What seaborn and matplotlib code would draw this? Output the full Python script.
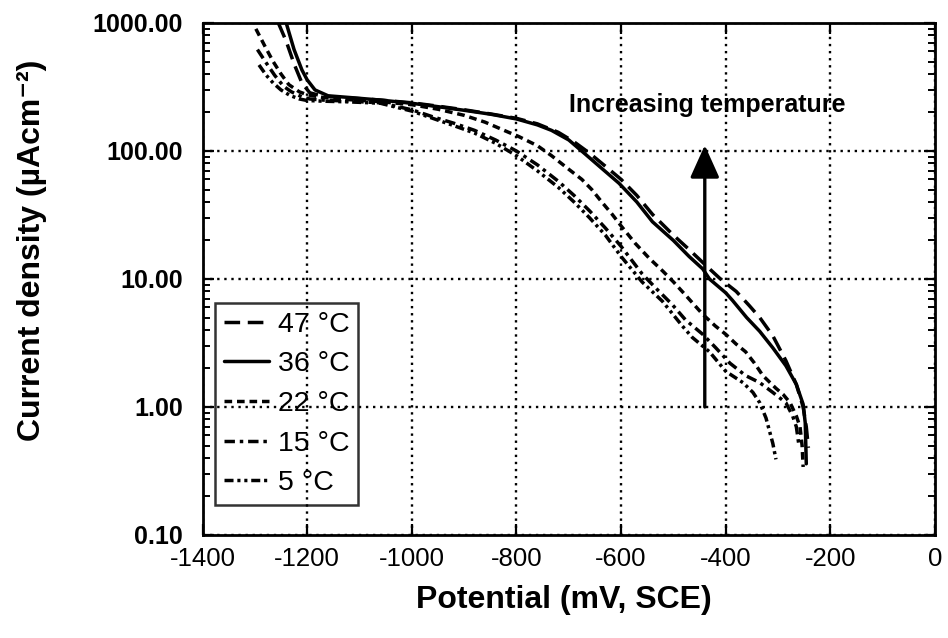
import matplotlib
matplotlib.use("Agg")
import matplotlib.pyplot as plt
import seaborn as sns
import pandas as pd
import numpy as np
from matplotlib.ticker import LogLocator, FixedLocator, FuncFormatter, NullFormatter

sns.set_theme(style="ticks")
plt.rcParams['font.family'] = ['Liberation Sans', 'DejaVu Sans']
plt.rcParams.update({"text.color": "black", "axes.labelcolor": "black",
                     "xtick.color": "black", "ytick.color": "black"})

# ---------------- data (potential mV vs current density uA/cm2) ----------------
x_47 = [-1255, -1240, -1225, -1210, -1195, -1170, -1120, -1060, -1000, -950, -900, -850,
        -800, -760, -720, -690, -660, -630, -600, -570, -540, -500, -470, -440, -410,
        -380, -355, -335, -310, -285, -265, -252, -246, -242]
y_47 = [1000, 720, 480, 340, 285, 268, 260, 250, 238, 224, 210, 195,
        180, 163, 140, 118, 96, 76, 60, 45, 32, 22, 17, 13, 10,
        8.0, 6.2, 5.0, 3.6, 2.3, 1.5, 1.0, 0.7, 0.48]

x_36 = [-1240, -1225, -1210, -1200, -1185, -1160, -1120, -1060, -1000, -950, -900, -850,
        -800, -760, -733, -700, -669, -640, -604, -570, -540, -500, -470, -444, -431,
        -400, -387, -360, -335, -310, -285, -265, -252, -248, -246]
y_36 = [1000, 620, 430, 360, 300, 270, 262, 250, 236, 222, 208, 194,
        178, 160, 145, 122, 95, 75, 56, 40, 28, 20, 15, 12, 10,
        7.8, 6.8, 5.0, 3.9, 2.9, 2.1, 1.5, 1.05, 0.75, 0.36]

x_22 = [-1298, -1280, -1265, -1250, -1235, -1215, -1200, -1170, -1120, -1060, -1000, -950,
        -900, -860, -815, -796, -760, -733, -700, -675, -656, -637, -617, -600, -573,
        -546, -520, -500, -477, -444, -420, -400, -380, -362, -345, -329, -304, -290,
        -277, -265, -258, -254, -252]
y_22 = [900, 650, 500, 400, 330, 290, 275, 262, 252, 243, 230, 212,
        190, 168, 140, 130, 110, 92, 72, 60, 50, 40, 32, 26, 19,
        14.5, 11.5, 9.5, 7.5, 5.3, 4.3, 3.7, 3.1, 2.7, 2.2, 1.76, 1.4, 1.25,
        1.08, 0.85, 0.7, 0.5, 0.34]

x_15 = [-1295, -1280, -1262, -1245, -1230, -1210, -1195, -1170, -1120, -1060, -1000, -960,
        -920, -880, -840, -800, -760, -720, -690, -660, -630, -600, -560, -535, -502,
        -477, -444, -419, -392, -362, -335, -310, -285, -272, -265, -260]
y_15 = [620, 500, 390, 320, 290, 265, 255, 250, 245, 238, 210, 185,
        165, 145, 122, 100, 78, 58, 45, 34, 25, 18, 11, 8.6, 6.3,
        4.8, 3.7, 2.9, 2.2, 1.76, 1.55, 1.3, 1.08, 0.85, 0.7, 0.5]

x_5 = [-1292, -1278, -1265, -1250, -1233, -1215, -1200, -1170, -1120, -1060, -1000, -960,
       -920, -880, -840, -800, -760, -720, -690, -660, -630, -600, -560, -521, -483,
       -464, -431, -400, -367, -348, -335, -323, -315, -310, -304]
y_5 = [470, 390, 340, 300, 272, 255, 248, 245, 242, 236, 205, 180,
       158, 138, 115, 92, 70, 52, 40, 30, 22, 15, 9.5, 6.7, 4.3,
       3.5, 2.7, 1.9, 1.55, 1.3, 1.08, 0.82, 0.62, 0.52, 0.39]

labels = ["47 °C", "36 °C", "22 °C", "15 °C", "5 °C"]
x_ticks = [-1400, -1200, -1000, -800, -600, -400, -200, 0]
y_ticks = [0.1, 1, 10, 100, 1000]

series = [(x_47, y_47), (x_36, y_36), (x_22, y_22), (x_15, y_15), (x_5, y_5)]
styles = [(0, (4.5, 2.2)), '-', (0, (2.2, 1.4)), (0, (3, 1.4, 1, 1.4)),
          (0, (2.6, 1.1, 0.9, 1.1, 0.9, 1.1))]

# ---------------- figure ----------------
fig = plt.figure(figsize=(9.48, 6.38), dpi=100)
ax = fig.add_axes([202.5 / 948, 1 - 535 / 638, 732.5 / 948, 512 / 638])

for (xs, ys), lab, ls in zip(series, labels, styles):
    df = pd.DataFrame({"E": xs, "i": ys})
    sns.lineplot(data=df, x="E", y="i", ax=ax, color="black", linestyle=ls,
                 lw=2.5, label=lab, estimator=None, sort=False)

ax.set_yscale("log")
ax.set_xlim(-1400, 0)
ax.set_ylim(0.1, 1000)

ax.xaxis.set_major_locator(FixedLocator(x_ticks))
ax.xaxis.set_major_formatter(FuncFormatter(lambda v, p: f"{int(v)}"))
ax.yaxis.set_major_locator(FixedLocator(y_ticks))
ax.yaxis.set_major_formatter(FuncFormatter(lambda v, p: f"{v:.2f}"))
ax.yaxis.set_minor_locator(LogLocator(base=10, subs=np.arange(2, 10)))
ax.yaxis.set_minor_formatter(NullFormatter())

ax.grid(True, which="major", color="black", linestyle=(0, (1, 2.0)), lw=1.7)
ax.tick_params(which="both", direction="in", top=True, right=True, color="black")
ax.tick_params(which="major", length=8, width=1.6)
ax.tick_params(which="minor", length=5, width=1.4)
ax.tick_params(axis="x", which="major", labelsize=18.5, pad=9)
ax.tick_params(axis="y", which="major", labelsize=18, pad=14)
for t in ax.get_yticklabels():
    t.set_fontweight("bold")

for s in ax.spines.values():
    s.set_color("black")
    s.set_linewidth(2.0)

ax.set_xlabel("Potential (mV, SCE)", fontsize=23, fontweight="bold")
ax.set_ylabel("Current density (µAcm⁻²)", fontsize=23, fontweight="bold")
ax.xaxis.set_label_coords(0.494, (535 - 600) / 512)
ax.xaxis.label.set_va("center")
ax.yaxis.set_label_coords((32 - 202.5) / 732.5, (535 - 250) / 512)
ax.yaxis.label.set_va("center")

# arrow + annotation
ax.annotate("", xy=(-440, 111), xytext=(-440, 1.0),
            arrowprops=dict(arrowstyle="-|>,head_length=1.0,head_width=0.45",
                            lw=2.4, color="black", mutation_scale=20,
                            shrinkA=0, shrinkB=0))
ax.text(-436, 230, "Increasing temperature", ha="center", va="center",
        fontsize=18, fontweight="bold")

leg = ax.legend(loc="lower left", bbox_to_anchor=((215 - 202.5) / 732.5, (535 - 505) / 512),
                borderaxespad=0, frameon=True, fancybox=False, fontsize=20.5,
                handlelength=1.6, handletextpad=0.3, labelspacing=0.48,
                borderpad=0.3)
leg.get_frame().set_edgecolor("black")
leg.get_frame().set_linewidth(1.8)
leg.get_frame().set_facecolor("none")
for h in leg.get_lines():
    h.set_linewidth(2.5)

fig.savefig("out.png", dpi=100)
